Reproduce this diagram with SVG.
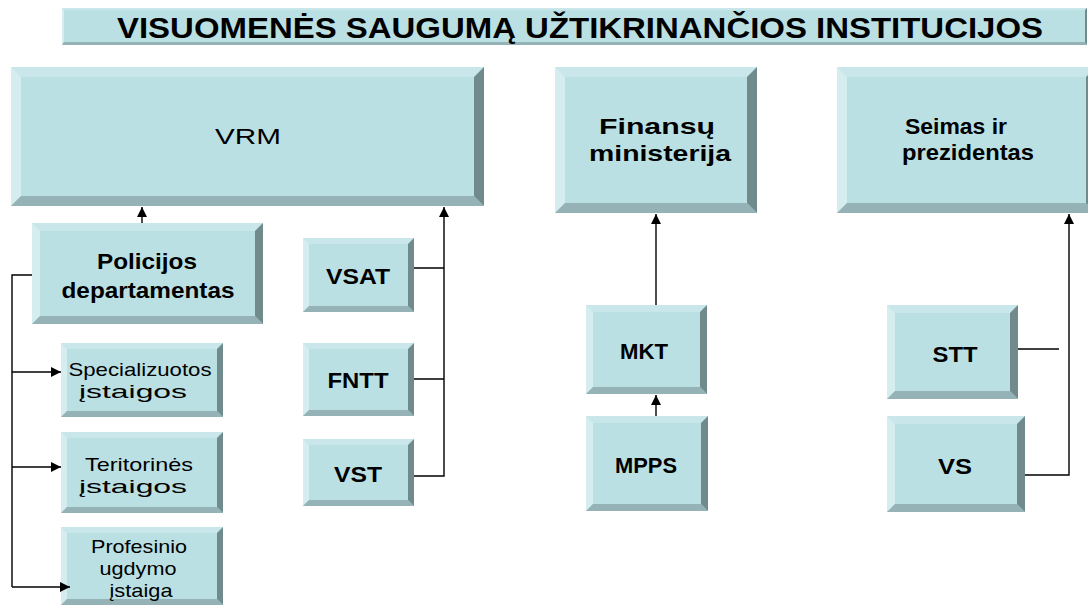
<svg xmlns="http://www.w3.org/2000/svg" width="1088" height="606" viewBox="0 0 1088 606">
<style>
.f{fill:#BBE0E3}
.t{fill:#C9E7EA}
.l{fill:#D6EDEF}
.b{fill:#95B3B6}
.r{fill:#718B8D}
.c{stroke:#000;stroke-width:1.4;fill:none}
text{font-family:"Liberation Sans",Arial,sans-serif;fill:#000;text-anchor:middle}
.h{font-size:29px;font-weight:bold}
.bb{font-size:22px;font-weight:bold}
.rg{font-size:19px}
.vr{font-size:22px}
</style>
<defs>
<marker id="ah" markerUnits="userSpaceOnUse" markerWidth="10" markerHeight="10" viewBox="0 0 10 10" refX="10" refY="5" orient="auto">
<path d="M0,0 L10,5 L0,10 z" fill="#000"/>
</marker>
</defs>
<rect width="1088" height="606" fill="#fff"/>

<g id="title">
<rect class="f" x="62" y="8" width="1025" height="37"/>
<polygon class="t" points="62,8 1087,8 1085,10 64,10"/>
<polygon class="l" points="62,8 64,10 64,42 62,45"/>
<polygon class="b" points="62,45 64,42 1085,42 1087,45"/>
<polygon class="r" points="1087,8 1087,45 1085,42 1085,10"/>
<text class="h" x="580" y="38" textLength="926" lengthAdjust="spacingAndGlyphs">VISUOMENĖS SAUGUMĄ UŽTIKRINANČIOS INSTITUCIJOS</text>
</g>

<g id="vrm">
<rect class="f" x="11" y="67" width="473" height="139"/>
<polygon class="t" points="11,67 484,67 474,77 21,77"/>
<polygon class="l" points="11,67 21,77 21,196 11,206"/>
<polygon class="b" points="11,206 21,196 474,196 484,206"/>
<polygon class="r" points="484,67 484,206 474,196 474,77"/>
<text class="vr" x="248" y="144" textLength="66" lengthAdjust="spacingAndGlyphs">VRM</text>
</g>

<g id="finansu">
<rect class="f" x="555" y="67" width="202" height="146"/>
<polygon class="t" points="555,67 757,67 747,77 565,77"/>
<polygon class="l" points="555,67 565,77 565,203 555,213"/>
<polygon class="b" points="555,213 565,203 747,203 757,213"/>
<polygon class="r" points="757,67 757,213 747,203 747,77"/>
<text class="bb" x="657" y="134" textLength="116" lengthAdjust="spacingAndGlyphs">Finansų</text>
<text class="bb" x="660" y="161" textLength="142" lengthAdjust="spacingAndGlyphs">ministerija</text>
</g>

<g id="seimas">
<rect class="f" x="837" y="67" width="259" height="146"/>
<polygon class="t" points="837,67 1096,67 1086,77 847,77"/>
<polygon class="l" points="837,67 847,77 847,203 837,213"/>
<polygon class="b" points="837,213 847,203 1086,203 1096,213"/>
<polygon class="r" points="1096,67 1096,213 1086,203 1086,77"/>
<text class="bb" x="956" y="134" textLength="102" lengthAdjust="spacingAndGlyphs">Seimas ir</text>
<text class="bb" x="968" y="160" textLength="132" lengthAdjust="spacingAndGlyphs">prezidentas</text>
</g>

<g id="policijos">
<rect class="f" x="32" y="223" width="231" height="101"/>
<polygon class="t" points="32,223 263,223 255,231 40,231"/>
<polygon class="l" points="32,223 40,231 40,316 32,324"/>
<polygon class="b" points="32,324 40,316 255,316 263,324"/>
<polygon class="r" points="263,223 263,324 255,316 255,231"/>
<text class="bb" x="147" y="269" textLength="100" lengthAdjust="spacingAndGlyphs">Policijos</text>
<text class="bb" x="148" y="298" textLength="173" lengthAdjust="spacingAndGlyphs">departamentas</text>
</g>

<g id="specializuotos">
<rect class="f" x="61" y="343" width="162" height="74"/>
<polygon class="t" points="61,343 223,343 217,349 67,349"/>
<polygon class="l" points="61,343 67,349 67,411 61,417"/>
<polygon class="b" points="61,417 67,411 217,411 223,417"/>
<polygon class="r" points="223,343 223,417 217,411 217,349"/>
<text class="rg" x="140" y="376" textLength="143" lengthAdjust="spacingAndGlyphs">Specializuotos</text>
<text class="rg" x="133" y="398" textLength="108" lengthAdjust="spacingAndGlyphs">įstaigos</text>
</g>

<g id="teritorines">
<rect class="f" x="61" y="432" width="162" height="81"/>
<polygon class="t" points="61,432 223,432 217,438 67,438"/>
<polygon class="l" points="61,432 67,438 67,507 61,513"/>
<polygon class="b" points="61,513 67,507 217,507 223,513"/>
<polygon class="r" points="223,432 223,513 217,507 217,438"/>
<text class="rg" x="139" y="471" textLength="108" lengthAdjust="spacingAndGlyphs">Teritorinės</text>
<text class="rg" x="133" y="493" textLength="108" lengthAdjust="spacingAndGlyphs">įstaigos</text>
</g>

<g id="profesinio">
<rect class="f" x="61" y="527" width="162" height="78"/>
<polygon class="t" points="61,527 223,527 217,533 67,533"/>
<polygon class="l" points="61,527 67,533 67,599 61,605"/>
<polygon class="b" points="61,605 67,599 217,599 223,605"/>
<polygon class="r" points="223,527 223,605 217,599 217,533"/>
<text class="rg" x="139" y="553" textLength="96" lengthAdjust="spacingAndGlyphs">Profesinio</text>
<text class="rg" x="138" y="575" textLength="77" lengthAdjust="spacingAndGlyphs">ugdymo</text>
<text class="rg" x="141" y="597" textLength="63" lengthAdjust="spacingAndGlyphs">įstaiga</text>
</g>

<g id="vsat">
<rect class="f" x="303" y="238" width="111" height="74"/>
<polygon class="t" points="303,238 414,238 408,244 309,244"/>
<polygon class="l" points="303,238 309,244 309,306 303,312"/>
<polygon class="b" points="303,312 309,306 408,306 414,312"/>
<polygon class="r" points="414,238 414,312 408,306 408,244"/>
<text class="bb" x="358" y="284" textLength="64" lengthAdjust="spacingAndGlyphs">VSAT</text>
</g>

<g id="fntt">
<rect class="f" x="303" y="343" width="111" height="73"/>
<polygon class="t" points="303,343 414,343 408,349 309,349"/>
<polygon class="l" points="303,343 309,349 309,410 303,416"/>
<polygon class="b" points="303,416 309,410 408,410 414,416"/>
<polygon class="r" points="414,343 414,416 408,410 408,349"/>
<text class="bb" x="358" y="388" textLength="61" lengthAdjust="spacingAndGlyphs">FNTT</text>
</g>

<g id="vst">
<rect class="f" x="303" y="439" width="111" height="67"/>
<polygon class="t" points="303,439 414,439 408,445 309,445"/>
<polygon class="l" points="303,439 309,445 309,500 303,506"/>
<polygon class="b" points="303,506 309,500 408,500 414,506"/>
<polygon class="r" points="414,439 414,506 408,500 408,445"/>
<text class="bb" x="358" y="482" textLength="48" lengthAdjust="spacingAndGlyphs">VST</text>
</g>

<g id="mkt">
<rect class="f" x="586" y="305" width="121" height="89"/>
<polygon class="t" points="586,305 707,305 700,312 593,312"/>
<polygon class="l" points="586,305 593,312 593,387 586,394"/>
<polygon class="b" points="586,394 593,387 700,387 707,394"/>
<polygon class="r" points="707,305 707,394 700,387 700,312"/>
<text class="bb" x="644" y="359" textLength="48" lengthAdjust="spacingAndGlyphs">MKT</text>
</g>

<g id="mpps">
<rect class="f" x="586" y="416" width="122" height="95"/>
<polygon class="t" points="586,416 708,416 701,423 593,423"/>
<polygon class="l" points="586,416 593,423 593,504 586,511"/>
<polygon class="b" points="586,511 593,504 701,504 708,511"/>
<polygon class="r" points="708,416 708,511 701,504 701,423"/>
<text class="bb" x="646" y="473" textLength="62" lengthAdjust="spacingAndGlyphs">MPPS</text>
</g>

<g id="stt">
<rect class="f" x="887" y="305" width="131" height="94"/>
<polygon class="t" points="887,305 1018,305 1010,313 895,313"/>
<polygon class="l" points="887,305 895,313 895,391 887,399"/>
<polygon class="b" points="887,399 895,391 1010,391 1018,399"/>
<polygon class="r" points="1018,305 1018,399 1010,391 1010,313"/>
<text class="bb" x="955" y="362" textLength="45" lengthAdjust="spacingAndGlyphs">STT</text>
</g>

<g id="vs">
<rect class="f" x="887" y="416" width="138" height="96"/>
<polygon class="t" points="887,416 1025,416 1017,424 895,424"/>
<polygon class="l" points="887,416 895,424 895,504 887,512"/>
<polygon class="b" points="887,512 895,504 1017,504 1025,512"/>
<polygon class="r" points="1025,416 1025,512 1017,504 1017,424"/>
<text class="bb" x="955" y="474" textLength="34" lengthAdjust="spacingAndGlyphs">VS</text>
</g>

<g id="connectors">
<path class="c" d="M142,223 V207" marker-end="url(#ah)"/>
<path class="c" d="M414,268 H444 M414,379 H444"/>
<path class="c" d="M414,476 H444 V207" marker-end="url(#ah)"/>
<path class="c" d="M32,275 H12 V587"/>
<path class="c" d="M12,372 H61" marker-end="url(#ah)"/>
<path class="c" d="M12,467 H61" marker-end="url(#ah)"/>
<path class="c" d="M12,587 H70" marker-end="url(#ah)"/>
<path class="c" d="M656,305 V214" marker-end="url(#ah)"/>
<path class="c" d="M656,416 V395" marker-end="url(#ah)"/>
<path class="c" d="M1018,349 H1059"/>
<path class="c" d="M1025,475 H1069 V214" marker-end="url(#ah)"/>
</g>
</svg>
